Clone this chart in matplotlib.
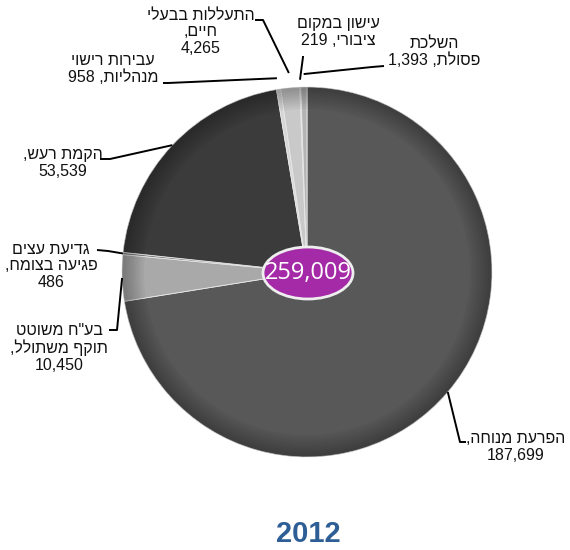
import re
import numpy as np
import matplotlib

matplotlib.use('Agg')
import matplotlib.pyplot as plt
from matplotlib.patches import Ellipse, Wedge

# categories (clockwise from 12 o'clock)
names = [
    ['הפרעת מנוחה,'],
    ['בע"ח משוטט', 'תוקף משתולל,'],
    ['גדיעת עצים', 'פגיעה בצומח,'],
    ['הקמת רעש,'],
    ['עבירות רישוי', 'מנהליות,'],
    ['התעללות בבעלי', 'חיים,'],
    ['עישון במקום', 'ציבורי,'],
    ['השלכת', 'פסולת,'],
]
values = [187699, 10450, 486, 53539, 958, 4265, 219, 1393]
value_inline = [False, False, False, False, True, False, True, True]
total_label = '259,009'
year = '2012'

colors = ['#585858', '#a9a9a9', '#7a7a7a', '#3b3b3b', '#d6d6d6', '#c9c9c9', '#8a8a8a', '#b4b4b4']

# layout in image pixels (x, y from top)
H = 550
cx, cy, R = 307, 272, 185
text_pos = [(516, 447), (59, 348), (51, 266), (63, 163), (113, 69), (201, 32), (338, 32), (434, 52)]
anchor_r = [1.0, 1.0, 1.0, 1.0, 1.06, 1.08, 1.04, 1.07]
knees = [(460, 442), (117, 330), (108, 251), (110, 159), (168, 83), (263, 20), (303, 57), (372, 67)]
ends = [(466, 442), (109, 330), (97, 250), (100, 159), (163, 83), (255, 20), (303, 56), (384, 66)]


def visual(line):
    # crude RTL reordering: keep numbers LTR, reverse everything else
    runs = re.findall(r'\d[\d,]*\d|\d|[^\d]+', line)
    return ''.join(r if r[0].isdigit() else r[::-1] for r in reversed(runs))


plt.rcParams['font.family'] = ['Liberation Sans', 'DejaVu Sans']
fig = plt.figure(figsize=(5.7, 5.5), dpi=100)
ax = fig.add_axes([0, 0, 1, 1])

wedges, _ = ax.pie(values, colors=colors, startangle=90, counterclock=False,
                   center=(cx, H - cy), radius=R,
                   wedgeprops=dict(edgecolor='#e8e8e8', linewidth=0.6))

# soft darker rim to mimic the bevelled look
for w in np.linspace(4, 22, 8):
    ax.add_patch(Wedge((cx, H - cy), R, 0, 360, width=w, facecolor='black',
                       alpha=0.035, edgecolor='none', zorder=3))

# labels with leader lines
for i, wd in enumerate(wedges):
    ang = np.deg2rad((wd.theta1 + wd.theta2) / 2)
    ax_x = cx + R * anchor_r[i] * np.cos(ang)
    ax_y = (H - cy) + R * anchor_r[i] * np.sin(ang)
    xs = [ax_x, knees[i][0], ends[i][0]]
    ys = [ax_y, H - knees[i][1], H - ends[i][1]]
    ax.plot(xs, ys, color='black', lw=1.4, zorder=4, solid_capstyle='butt')

    lines = list(names[i])
    num = f'{values[i]:,}'
    if value_inline[i]:
        lines[-1] = lines[-1] + ' ' + num
    else:
        lines.append(num)
    txt = '\n'.join(visual(l) for l in lines)
    ax.text(text_pos[i][0], H - text_pos[i][1], txt, ha='center', va='center',
            multialignment='center', fontsize=11.5, color='#111111',
            linespacing=1.15, zorder=5)

# total in the middle
ax.add_patch(Ellipse((cx + 1, H - 273), 90, 52, facecolor='#a52aa8',
                     edgecolor='#eeeeee', lw=2, zorder=6))
ax.text(cx + 1, H - 273, total_label, ha='center', va='center', color='white',
        fontsize=17, family=['Open Sans', 'DejaVu Sans'], zorder=7)

ax.text(308, H - 534, year, ha='center', va='center', fontsize=21,
        fontweight='bold', color='#2e5e96')

ax.set_xlim(0, 570)
ax.set_ylim(0, H)
ax.set_aspect('equal')
ax.axis('off')

fig.savefig('out.png', dpi=100, facecolor='white')
